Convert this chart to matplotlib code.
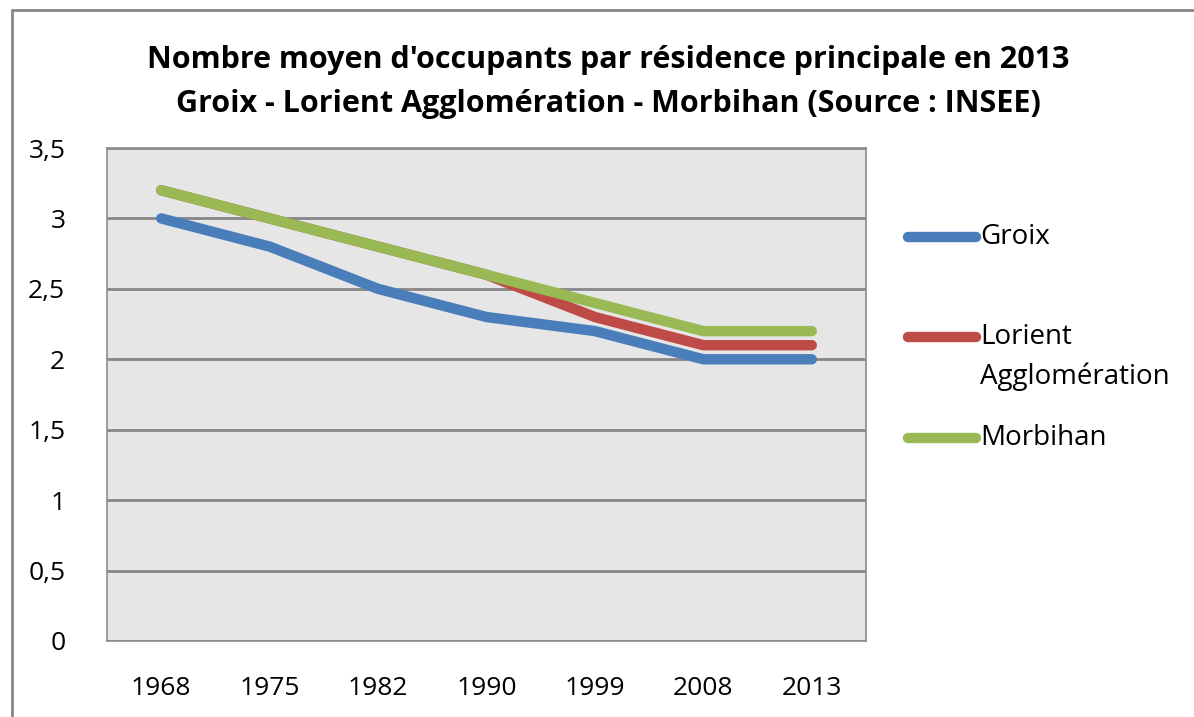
import matplotlib
matplotlib.use("Agg")
import matplotlib.pyplot as plt
from matplotlib.patches import Rectangle
from matplotlib.lines import Line2D

years = ["1968", "1975", "1982", "1990", "1999", "2008", "2013"]
groix = [3.0, 2.8, 2.5, 2.3, 2.2, 2.0, 2.0]
lorient = [3.2, 3.0, 2.8, 2.6, 2.3, 2.1, 2.1]
morbihan = [3.2, 3.0, 2.8, 2.6, 2.4, 2.2, 2.2]
yticks = [0, 0.5, 1, 1.5, 2, 2.5, 3, 3.5]
ytick_labels = ["0", "0,5", "1", "1,5", "2", "2,5", "3", "3,5"]

series = [
    ("Groix", groix, "#4A7EBB"),
    ("Lorient\nAgglomération", lorient, "#BE4B48"),
    ("Morbihan", morbihan, "#98B954"),
]

plt.rcParams['font.family'] = ['Open Sans', 'DejaVu Sans']

W, H = 1194, 717
fig = plt.figure(figsize=(W / 100, H / 100), dpi=100)

# outer chart frame (runs off the right and bottom edges)
fig.patches.append(Rectangle((12 / W, -0.1), 1.2, 1.1 - 10 / H,
                             transform=fig.transFigure, fill=False,
                             edgecolor="#868686", lw=2))

ax = fig.add_axes([107 / W, 1 - 641 / H, (866 - 107) / W, (641 - 148) / H])
ax.set_facecolor("#E6E6E6")
for s in ax.spines.values():
    s.set_color("#8C8C8C")
    s.set_linewidth(1.2)

x = list(range(len(years)))
for name, vals, col in series:
    ax.plot(x, vals, color=col, lw=7.5, solid_capstyle="round",
            solid_joinstyle="round", label=name)

ax.set_xlim(-0.5, len(years) - 0.5)
ax.set_ylim(0, 3.5)
ax.set_yticks(yticks)
ax.set_yticklabels(ytick_labels)
ax.set_xticks(x)
ax.set_xticklabels(years)
ax.tick_params(length=0, labelsize=19, colors="black")
ax.tick_params(axis="y", pad=30)
ax.tick_params(axis="x", pad=25)
ax.yaxis.grid(True, color="#868686", lw=2)
ax.set_axisbelow(True)

# legend, placed by hand like the Excel one (handle on the first text line)
leg_y = [237, 337, 438]
for (name, vals, col), yp in zip(series, leg_y):
    fy = 1 - yp / H
    fig.add_artist(Line2D([908 / W, 976 / W], [fy, fy], color=col, lw=7.5,
                          solid_capstyle="round", transform=fig.transFigure))
    fig.text(980 / W, fy, name.split("\n")[0], ha="left", va="center",
             fontsize=20)
    if "\n" in name:
        fig.text(980 / W, fy - 40 / H, name.split("\n")[1], ha="left",
                 va="center", fontsize=20)

fig.text(608 / W, 1 - 60 / H,
         "Nombre moyen d'occupants par résidence principale en 2013",
         ha="center", va="center", fontsize=22, fontweight="bold")
fig.text(608 / W, 1 - 104 / H,
         "Groix - Lorient Agglomération - Morbihan (Source : INSEE)",
         ha="center", va="center", fontsize=22, fontweight="bold")

fig.savefig("out.png", dpi=100)
